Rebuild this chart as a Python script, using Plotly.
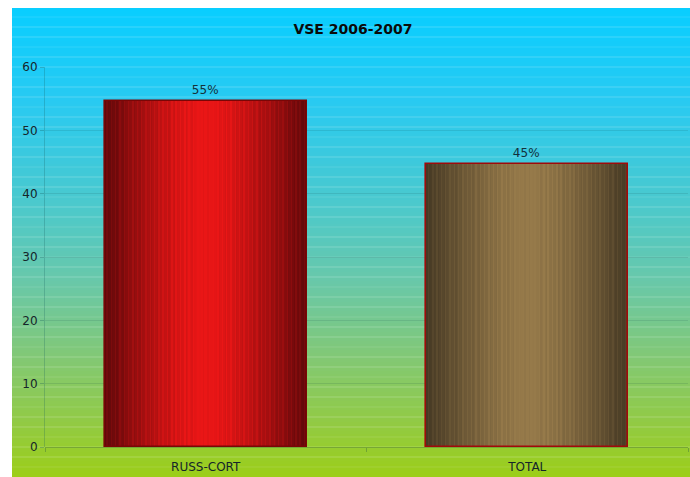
import plotly.graph_objects as go

categories = ["RUSS-CORT", "TOTAL"]
values = [54.6, 44.7]
title_text = "VSE 2006-2007"

W, H = 690, 477
L, R, T, B = 45, 2, 67, 30
pw, ph = W - L - R, H - T - B

def px_to_paper_x(px):
    return (px - L) / pw

def px_to_paper_y(py):
    return (H - B - py) / ph

def lerp(a, b, t):
    return tuple(a[k] + (b[k] - a[k]) * t for k in range(3))

def rgb(c, a=1.0):
    return "rgba(%d,%d,%d,%.3f)" % (round(c[0]), round(c[1]), round(c[2]), a)

# background gradient stops (pixel y, colour)
stops = [(8, (8, 206, 255)), (100, (40, 202, 242)), (200, (74, 201, 206)),
         (280, (104, 200, 170)), (350, (128, 200, 122)), (420, (145, 202, 70)),
         (477, (156, 206, 24))]

def bg_color(py):
    for (y0, c0), (y1, c1) in zip(stops[:-1], stops[1:]):
        if y0 <= py <= y1:
            return lerp(c0, c1, (py - y0) / (y1 - y0))
    return stops[-1][1]

shapes = []
x0p, x1p = px_to_paper_x(12), px_to_paper_x(W + 2)
step = 3
py = 8
while py < H:
    shapes.append(dict(type="rect", xref="paper", yref="paper", layer="below",
                       x0=x0p, x1=x1p, y0=px_to_paper_y(min(py + step, H + 1)),
                       y1=px_to_paper_y(py), line=dict(width=0),
                       fillcolor=rgb(bg_color(py + step / 2))))
    py += step
# faint light horizontal stripes of the background texture
py = 17
k = 0
while py < H:
    yy = px_to_paper_y(py)
    shapes.append(dict(type="line", xref="paper", yref="paper", layer="below",
                       x0=x0p, x1=x1p, y0=yy, y1=yy,
                       line=dict(width=1, color="rgba(255,255,255,%.2f)" % (0.22 if k % 3 else 0.12))))
    py += 10
    k += 1

fig = go.Figure()

bar_w = 0.628
N = 70
red_edge, red_mid = (96, 8, 10), (234, 22, 22)
brn_edge, brn_mid = (70, 57, 36), (150, 122, 74)
for i in range(N):
    d = 1 - i / N
    t = 1 - d ** 1.4
    lighten = 0.12 if i % 3 == 1 else (-0.05 if i % 4 == 0 else 0.0)
    cr = lerp(red_edge, red_mid, min(1, max(0, t + lighten)))
    cb = lerp(brn_edge, brn_mid, min(1, max(0, t + lighten)))
    fig.add_trace(go.Bar(x=categories, y=values, width=bar_w * d,
                         marker=dict(color=[rgb(cr), rgb(cb)], line=dict(width=0)),
                         hoverinfo="skip", showlegend=False))

fig.add_trace(go.Bar(x=categories, y=values, width=bar_w,
                     marker=dict(color="rgba(0,0,0,0)",
                                 line=dict(width=1.6, color=["#7a0606", "#a00a0a"])),
                     text=["%d%%" % int(v + 0.5) for v in values], textposition="outside",
                     textfont=dict(family="DejaVu Sans", size=12, color="#13303a"),
                     cliponaxis=False, showlegend=False))

fig.update_layout(
    width=W, height=H, barmode="overlay",
    margin=dict(l=L, r=R, t=T, b=B),
    paper_bgcolor="white", plot_bgcolor="rgba(0,0,0,0)",
    shapes=shapes,
    title=dict(text="<b>" + title_text + "</b>", x=353 / W, xanchor="center",
               y=1 - 29 / H, yanchor="middle",
               font=dict(family="DejaVu Sans", size=14, color="#0a0a0a")),
    font=dict(family="DejaVu Sans", size=12, color="#1a2a30"),
    xaxis=dict(type="category", tickson="boundaries", ticks="outside", ticklen=4,
               tickcolor="rgba(40,90,60,0.35)", showgrid=False,
               showline=False, tickfont=dict(size=12, color="#15252a"),
               ticklabelstandoff=11, range=[-0.5, 1.5]),
    yaxis=dict(range=[0, 60], dtick=10, ticks="outside", ticklen=4,
               tickcolor="rgba(20,90,90,0.3)", showgrid=True,
               gridcolor="rgba(20,80,80,0.14)", gridwidth=1,
               showline=True, linecolor="rgba(20,90,90,0.25)", linewidth=1,
               zeroline=True, zerolinecolor="rgba(40,90,20,0.35)", zerolinewidth=1,
               tickfont=dict(size=12, color="#15252a")),
    bargap=0,
)

fig.write_html("out.html")
